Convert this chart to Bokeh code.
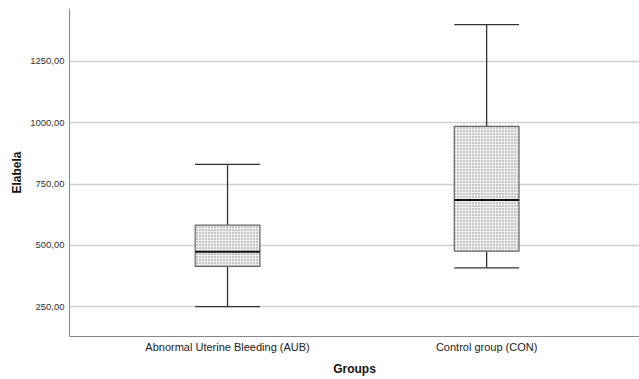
from bokeh.plotting import figure
from bokeh.models import FixedTicker, Range1d, ColumnDataSource
from bokeh.embed import file_html
from bokeh.resources import INLINE

groups = ["Abnormal Uterine Bleeding (AUB)", "Control group (CON)"]
whisker_low = [250, 408]
q1 = [414, 476]
median = [474, 685]
q3 = [582, 985]
whisker_high = [830, 1400]
y_ticks = [250, 500, 750, 1000, 1250]
y_tick_labels = ["250,00", "500,00", "750,00", "1000,00", "1250,00"]

xs = list(range(len(groups)))
FONT = "Liberation Sans"

p = figure(width=639, height=379, output_backend="svg", toolbar_location=None,
           x_range=Range1d(-0.61, 1.59), y_range=Range1d(128, 1466),
           min_border_top=8, min_border_right=0, min_border_left=69, min_border_bottom=43)
p.outline_line_color = None
p.background_fill_color = "white"
p.border_fill_color = "white"

src = ColumnDataSource(dict(x=xs, q1=q1, q3=q3, med=median, lo=whisker_low, hi=whisker_high))

bw = 0.25
cap = 0.125
p.segment(x0="x", y0="hi", x1="x", y1="q3", source=src, line_color="#333333", line_width=1.3)
p.segment(x0="x", y0="q1", x1="x", y1="lo", source=src, line_color="#333333", line_width=1.3)
for x, lo, hi in zip(xs, whisker_low, whisker_high):
    p.segment(x0=[x - cap, x - cap], y0=[lo, hi], x1=[x + cap, x + cap], y1=[lo, hi],
              line_color="#333333", line_width=1.3)
p.vbar(x="x", width=bw, bottom="q1", top="q3", source=src, fill_color="#eeeeee",
       hatch_pattern="dot", hatch_color="#8a8a8a", hatch_scale=3, hatch_weight=1,
       line_color="#666666", line_width=1.2)
p.segment(x0=[x - bw / 2 for x in xs], y0=median, x1=[x + bw / 2 for x in xs], y1=median,
          line_color="#111111", line_width=2)

p.xaxis.ticker = FixedTicker(ticks=xs)
p.xaxis.major_label_overrides = {i: g for i, g in enumerate(groups)}
p.yaxis.ticker = FixedTicker(ticks=y_ticks)
p.yaxis.major_label_overrides = {t: l for t, l in zip(y_ticks, y_tick_labels)}
p.xaxis.axis_label = "Groups"
p.yaxis.axis_label = "Elabela"
for ax in (p.xaxis[0], p.yaxis[0]):
    ax.axis_line_color = "#888888"
    ax.major_tick_line_color = None
    ax.minor_tick_line_color = None
    ax.major_tick_out = 0
    ax.major_tick_in = 0
    ax.axis_label_text_font = FONT
    ax.axis_label_text_font_style = "bold"
    ax.axis_label_text_font_size = "12px"
    ax.axis_label_text_color = "#111111"
    ax.major_label_text_font = FONT
p.xaxis.major_label_text_font_size = "11px"
p.xaxis.major_label_text_color = "#222222"
p.xaxis.major_label_standoff = 4
p.xaxis.axis_label_standoff = 6
p.yaxis.major_label_text_font_size = "9.5px"
p.yaxis.major_label_text_color = "#333333"
p.yaxis.major_label_standoff = 5
p.yaxis.axis_label_standoff = 3

p.xgrid.grid_line_color = None
p.ygrid.ticker = FixedTicker(ticks=y_ticks)
p.ygrid.grid_line_color = "#d0d0d0"
p.ygrid.grid_line_width = 1.3

open("out.html", "w").write(file_html(p, INLINE))
